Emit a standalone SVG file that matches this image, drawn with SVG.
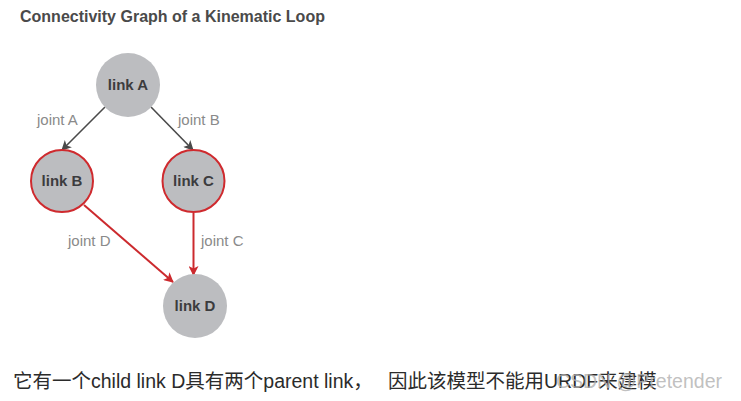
<svg xmlns="http://www.w3.org/2000/svg" width="741" height="401" viewBox="0 0 741 401">
<defs>
<style>
.node{fill:#bcbdc0}
.red{stroke:#cf2a2e;stroke-width:2}
.lbl{font-family:"Liberation Sans",Arial,sans-serif;font-weight:bold;font-size:15px;fill:#3c3c3e;text-anchor:middle}
.jl{font-family:"Liberation Sans",Arial,sans-serif;font-size:15px;fill:#8a8a8a}
.e{fill:none;stroke-width:1.6}
.gray{stroke:#4a4a4a}
.rede{stroke:#cc2a2e;stroke-width:2}
.cn{font-family:"Liberation Sans","Noto Sans CJK SC",sans-serif;font-size:19.5px;fill:#2b2b2b}
</style>
<marker id="ag" viewBox="0 0 10 10" refX="9" refY="5" markerWidth="11" markerHeight="10" markerUnits="userSpaceOnUse" orient="auto"><path d="M0,0 L10,5 L0,10 L2.5,5 Z" fill="#4a4a4a"/></marker>
<marker id="ar" viewBox="0 0 10 10" refX="9" refY="5" markerWidth="12" markerHeight="10" markerUnits="userSpaceOnUse" orient="auto"><path d="M0,0 L10,5 L0,10 L2.5,5 Z" fill="#cc2a2e"/></marker>
</defs>
<rect width="741" height="401" fill="#ffffff"/>
<text x="20" y="22" font-family="'Liberation Sans',Arial,sans-serif" font-weight="bold" font-size="16" fill="#4a4a4a">Connectivity Graph of a Kinematic Loop</text>
<g id="connectors">
<line class="e gray" x1="105" y1="107" x2="62" y2="150" marker-end="url(#ag)"/>
<line class="e gray" x1="151" y1="107" x2="193" y2="150" marker-end="url(#ag)"/>
<line class="e rede" x1="84" y1="205" x2="173" y2="282" marker-end="url(#ar)"/>
<line class="e rede" x1="193.5" y1="213" x2="193.5" y2="275" marker-end="url(#ar)"/>
<text class="jl" x="37" y="125">joint A</text>
<text class="jl" x="178" y="125">joint B</text>
<text class="jl" x="68" y="246">joint D</text>
<text class="jl" x="201" y="246">joint C</text>
</g>
<g id="linkA"><circle class="node" cx="128" cy="85" r="32"/><text class="lbl" x="128" y="90">link A</text></g>
<g id="linkB"><circle class="node red" cx="62" cy="181" r="31"/><text class="lbl" x="62" y="186">link B</text></g>
<g id="linkC"><circle class="node red" cx="193.5" cy="181" r="31"/><text class="lbl" x="193.5" y="186">link C</text></g>
<g id="linkD"><circle class="node" cx="195" cy="306" r="32"/><text class="lbl" x="195" y="311">link D</text></g>
<text class="cn" x="13" y="388">它有一个child link D具有两个parent link，<tspan x="388">因此该模型不能用URDF来建模</tspan></text>
<text x="722" y="388" text-anchor="end" font-family="'Liberation Sans',Arial,sans-serif" font-size="19.5" fill="#b0b0b0" fill-opacity="0.8">CSDN @Pretender</text>
</svg>
